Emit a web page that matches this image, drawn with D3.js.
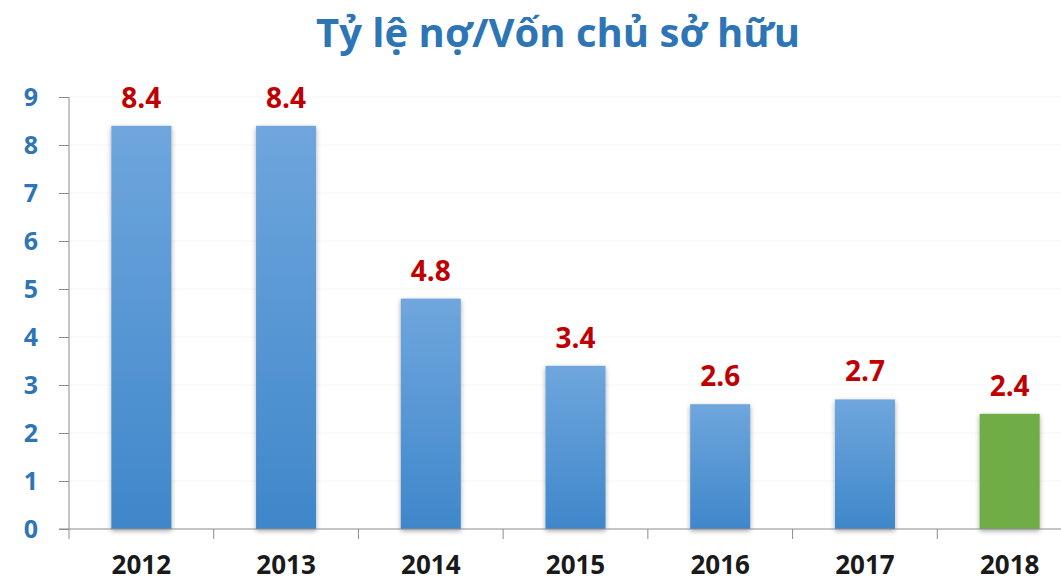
<!DOCTYPE html>
<html>
<head>
<meta charset="utf-8">
<script src="https://d3js.org/d3.v7.min.js"></script>
<style>
  body { margin: 0; background: #fff; }
  text { font-family: "Open Sans", "Noto Sans", sans-serif; font-weight: bold; }
</style>
</head>
<body>
<script>
var years = ["2012", "2013", "2014", "2015", "2016", "2017", "2018"];
var ratios = [8.4, 8.4, 4.8, 3.4, 2.6, 2.7, 2.4];
var yTicks = [0, 1, 2, 3, 4, 5, 6, 7, 8, 9];
var titleText = "Tỷ lệ nợ/Vốn chủ sở hữu";

var width = 1061, height = 582;
var svg = d3.select("body").append("svg")
    .attr("width", width)
    .attr("height", height);

var defs = svg.append("defs");
var grad = defs.append("linearGradient")
    .attr("id", "blueGrad")
    .attr("x1", 0).attr("y1", 0).attr("x2", 0).attr("y2", 1);
grad.append("stop").attr("offset", "0%").attr("stop-color", "#6fa6dd");
grad.append("stop").attr("offset", "100%").attr("stop-color", "#3f87ca");

var shadow = defs.append("filter").attr("id", "shadow")
    .attr("x", "-20%").attr("y", "-5%").attr("width", "140%").attr("height", "112%");
shadow.append("feDropShadow")
    .attr("dx", 0).attr("dy", 2).attr("stdDeviation", 2.5)
    .attr("flood-color", "#000").attr("flood-opacity", 0.35);

var x = d3.scaleBand()
    .domain(years)
    .range([69, 1082])
    .paddingInner(0.585)
    .paddingOuter(0.2925);

var y = d3.scaleLinear()
    .domain([0, 9])
    .range([529, 97]);

// faint gridlines
svg.append("g")
  .selectAll("line")
  .data(yTicks.slice(1))
  .enter().append("line")
    .attr("x1", 69).attr("x2", width)
    .attr("y1", function(d) { return y(d); })
    .attr("y2", function(d) { return y(d); })
    .attr("stroke", "#f6f6f6");

// bars
svg.append("g")
  .selectAll("rect")
  .data(ratios)
  .enter().append("rect")
    .attr("x", function(d, i) { return x(years[i]); })
    .attr("y", function(d) { return y(d); })
    .attr("width", x.bandwidth())
    .attr("height", function(d) { return y(0) - y(d); })
    .attr("fill", function(d, i) { return i === years.length - 1 ? "#70ad47" : "url(#blueGrad)"; })
    .attr("filter", "url(#shadow)");

// value labels
svg.append("g")
  .selectAll("text")
  .data(ratios)
  .enter().append("text")
    .attr("x", function(d, i) { return x(years[i]) + x.bandwidth() / 2; })
    .attr("y", function(d) { return y(d) - 18; })
    .attr("text-anchor", "middle")
    .attr("fill", "#c00000")
    .attr("font-size", "28px")
    .text(function(d) { return d.toFixed(1); });

// y axis
var yAxis = svg.append("g")
    .attr("transform", "translate(69,0)")
    .call(d3.axisLeft(y).tickValues(yTicks).tickSize(10).tickPadding(18).tickFormat(d3.format("d")));
yAxis.select(".domain").attr("stroke", "#8c8c8c").attr("d", "M0,97V539");
yAxis.selectAll(".tick line").attr("stroke", "#8c8c8c");
yAxis.selectAll(".tick text")
    .attr("fill", "#2e75b6")
    .attr("font-size", "25px")
    .attr("text-anchor", "middle")
    .attr("x", -38)
    .attr("font-family", "'Open Sans', sans-serif");

// x axis baseline
svg.append("line")
    .attr("x1", 59).attr("x2", width)
    .attr("y1", y(0)).attr("y2", y(0))
    .attr("stroke", "#8c8c8c");

// category boundary ticks
var step = x.step();
svg.append("g")
  .selectAll("line")
  .data(years.slice(1))
  .enter().append("line")
    .attr("x1", function(d) { return x(d) - x.paddingInner() * step / 2; })
    .attr("x2", function(d) { return x(d) - x.paddingInner() * step / 2; })
    .attr("y1", y(0)).attr("y2", y(0) + 10)
    .attr("stroke", "#8c8c8c");

// x labels
svg.append("g")
  .selectAll("text")
  .data(years)
  .enter().append("text")
    .attr("x", function(d) { return x(d) + x.bandwidth() / 2; })
    .attr("y", 574)
    .attr("text-anchor", "middle")
    .attr("fill", "#1a1a1a")
    .attr("font-size", "26px")
    .text(function(d) { return d; });

// title
svg.append("text")
    .attr("x", 558)
    .attr("y", 47)
    .attr("text-anchor", "middle")
    .attr("fill", "#2e75b6")
    .attr("font-size", "40px")
    .text(titleText);
</script>
</body>
</html>
